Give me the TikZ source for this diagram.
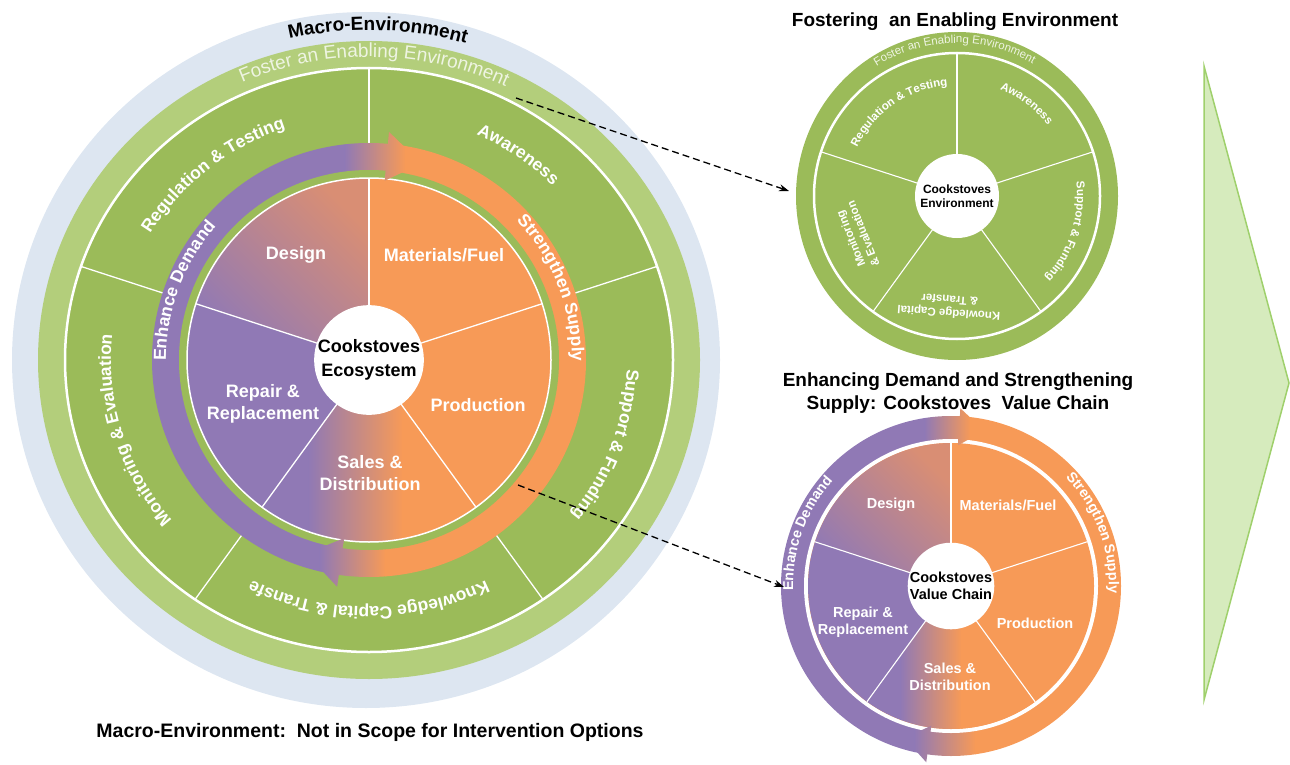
\documentclass[tikz,border=0pt]{standalone}
\usepackage{fontspec}
\setmainfont{Liberation Sans}
\usetikzlibrary{decorations.text,arrows.meta,calc}
\definecolor{pu}{HTML}{9079B5}
\definecolor{orng}{HTML}{F79A57}
\definecolor{grn}{HTML}{9BBB59}
\definecolor{lgrn}{HTML}{B3CE7B}
\definecolor{mblue}{HTML}{DDE6F1}
\definecolor{salm}{HTML}{D98E74}
\definecolor{trifill}{HTML}{D6EBBD}
\definecolor{triedge}{HTML}{9FD06C}
\definecolor{paletxt}{HTML}{EEF4E2}
\newcommand\fsz[2]{\fontsize{#1}{#2}\selectfont}
% curved text: #1 centre, #2 x radius, #3 y radius, #4 mid angle, #5 half span, #6 format, #7 text
\newcommand\arctext[7]{%
  \path[shift={(#1)},decorate,decoration={text along path,text align=center,text={|#6|#7}}]
    ({(#2)*cos((#4)+(#5))},{(#3)*sin((#4)+(#5))})
    arc[start angle={(#4)+(#5)},end angle={(#4)-(#5)},x radius=#2,y radius=#3];}
\newcommand\mainpaint{%
  \fill[pu] (-240,0) rectangle (-24,240);
  \shade[left color=pu,right color=orng] (-24.5,0) rectangle (36.5,240);
  \fill[orng] (36,0) rectangle (240,240);
  \fill[pu] (-240,0.5) rectangle (-49,-240);
  \shade[left color=pu,right color=orng] (-49.5,0.5) rectangle (16.5,-240);
  \fill[orng] (16,0.5) rectangle (240,-240);}
\newcommand\brpaint{%
  \fill[pu] (-190,0) rectangle (-26,190);
  \shade[left color=pu,right color=orng] (-26.5,0) rectangle (19.5,190);
  \fill[orng] (19,0) rectangle (190,190);
  \fill[pu] (-190,0.5) rectangle (-36,-190);
  \shade[left color=pu,right color=orng] (-36.5,0.5) rectangle (24.5,-190);
  \fill[orng] (24,0.5) rectangle (190,-190);}
\tikzset{
  wl/.style={text=white,font=\fsz{18}{22}\bfseries,align=center,inner sep=0pt},
  swl/.style={text=white,font=\fsz{14.5}{17}\bfseries,align=center,inner sep=0pt},
  tl/.style={text=white,font=\fsz{11.5}{13.5}\bfseries,align=center,inner sep=0pt},
  hub/.style={circle,fill=white,inner sep=0pt,align=center,text=black},
  ttl/.style={font=\fsz{19}{23}\bfseries,align=center,inner sep=0pt,text=black},
  conn/.style={draw=black,line width=1.3pt,dash pattern=on 7pt off 4pt,-{Stealth[length=10pt,width=7pt]}},
  divider/.style={draw=white,line width=1.3pt},
}
\begin{document}
\begin{tikzpicture}[x=1pt,y=1pt]
\useasboundingbox (0,0) rectangle (1290,-765);
\coordinate (C) at (369,-360);
\coordinate (T) at (957,-196);
\coordinate (B) at (951,-586);

% ---------------- main ecosystem ----------------
\fill[mblue] (366,-360) ellipse[x radius=354,y radius=348];
\fill[lgrn] (C) ellipse[x radius=331,y radius=319];
\fill[grn] (C) ellipse[x radius=304,y radius=292];
\begin{scope}
  \clip (C) ellipse[x radius=304,y radius=292];
  \begin{scope}[shift={(C)}]
    \foreach \a in {18,90,162,234,306} \draw[divider] (\a:215) -- (\a:330);
  \end{scope}
\end{scope}
\draw[white,line width=2.5pt] (C) ellipse[x radius=304,y radius=292];

\begin{scope}[shift={(C)}]
  \begin{scope}\clip (0,0) circle[radius=217]; \mainpaint \end{scope}
  \fill[grn] (0,0) circle[radius=190];
  \fill[orng] (0,0) circle[radius=182];
  \fill[pu] (0,0) -- (162:182) arc[start angle=162,end angle=234,radius=182] -- cycle;
  \shade[bottom color=pu,top color=salm,shading angle=-45] (0,0) -- (90:182) arc[start angle=90,end angle=162,radius=182] -- cycle;
  \begin{scope}
    \clip (0,0) -- (234:182) arc[start angle=234,end angle=306,radius=182] -- cycle;
    \fill[pu] (-200,0) rectangle (-60,-200);
    \shade[left color=pu,right color=orng] (-60.5,0) rectangle (33.5,-200);
    \fill[orng] (33,0) rectangle (200,-200);
  \end{scope}
  \foreach \a in {18,90,162,234,306} \draw[divider] (\a:50) -- (\a:182);
  \draw[white,line width=1.5pt] (0,0) circle[radius=182];
  \begin{scope}\clip (85:229) -- (75:203.5) -- (85:180) -- cycle; \mainpaint \end{scope}
  \begin{scope}\clip (262:229) -- (252:203.5) -- (262:180) -- cycle; \mainpaint \end{scope}
  \node[hub,minimum size=104pt,font=\fsz{18}{24}\bfseries] (eco) at (0,0) {Cookstoves\\Ecosystem};
\end{scope}

\node[wl] (design) at (296,-255) {Design};
\node[wl] (matfuel) at (444,-255) {Materials/Fuel};
\node[wl] (prod) at (478,-405) {Production};
\node[wl] (sales) at (370,-473) {Sales \&\\Distribution};
\node[wl] (repair) at (263,-404) {Repair \&\\Replacement};

\arctext{C}{255}{245}{129.5}{45}{\fsz{17.5}{20}\bfseries\color{white}}{Regulation {\&} Testing}
\arctext{C}{258}{248}{54.5}{45}{\fsz{17.5}{20}\bfseries\color{white}}{Awareness}
\arctext{C}{258}{248}{340}{45}{\fsz{17.5}{20}\bfseries\color{white}}{Support {\&} Funding}
\arctext{C}{257}{247}{270}{45}{\fsz{17.5}{20}\bfseries\color{white}}{Knowledge Capital {\&} Transfe}
\arctext{C}{258}{248}{197}{45}{\fsz{17.5}{20}\bfseries\color{white}}{Monitoring {\&} Evaluation}
\arctext{C}{315}{303}{89}{50}{\fsz{19}{22}\color{paletxt}}{Foster an Enabling Environment}
\arctext{C}{342}{330}{88.5}{40}{\fsz{19}{22}\bfseries}{Macro-Environment}
\arctext{C}{203}{203}{159.5}{50}{\fsz{17.5}{20}\bfseries\color{white}}{Enhance Demand}
\arctext{C}{203}{203}{21.5}{50}{\fsz{17.5}{20}\bfseries\color{white}}{Strengthen Supply}

\node[anchor=base,font=\fsz{19.5}{23}\bfseries,inner sep=0pt] (scope) at (370,-737) {Macro-Environment:\ \ Not in Scope for Intervention Options};

% ---------------- enabling environment ----------------
\node[ttl,anchor=base] (title1) at (955,-27) {Fostering\ \ an Enabling Environment};
\fill[grn] (T) ellipse[x radius=161,y radius=164];
\begin{scope}[shift={(T)}]
  \foreach \a in {18,90,162,234,306} \draw[white,line width=1.1pt] (\a:40) -- (\a:143);
  \draw[white,line width=2.5pt] (0,0) circle[radius=143];
  \node[hub,minimum size=84pt,font=\fsz{12}{14}\bfseries] (envhub) at (0,0) {Cookstoves\\Environment};
  \node[tl,rotate=176] (kct) at (266:111) {Knowledge Capital\\\& Transfer};
  \node[tl,rotate=112] (mev) at (202:108) {Monitoring\\\& Evaluation};
\end{scope}
\arctext{T}{151}{153}{91}{50}{\fsz{11.5}{13}\color{paletxt}}{Foster an Enabling Environment}
\arctext{T}{111}{111}{124.5}{45}{\fsz{11.5}{13}\bfseries\color{white}}{Regulation {\&} Testing}
\arctext{T}{115}{115}{53}{45}{\fsz{11.5}{13}\bfseries\color{white}}{Awareness}
\arctext{T}{120}{120}{342}{45}{\fsz{11.5}{13}\bfseries\color{white}}{Support {\&} Funding}

% ---------------- value chain ----------------
\node[ttl,anchor=north] (title2) at (958,-373) {Enhancing Demand and Strengthening\\Supply: Cookstoves\ \ Value Chain};
\begin{scope}[shift={(B)}]
  \begin{scope}\clip (0,0) circle[radius=170]; \brpaint \end{scope}
  \fill[white] (0,0) circle[radius=147];
  \fill[orng] (0,0) circle[radius=143];
  \fill[pu] (0,0) -- (162:143) arc[start angle=162,end angle=234,radius=143] -- cycle;
  \shade[bottom color=pu,top color=salm,shading angle=-45] (0,0) -- (90:143) arc[start angle=90,end angle=162,radius=143] -- cycle;
  \begin{scope}
    \clip (0,0) -- (234:143) arc[start angle=234,end angle=306,radius=143] -- cycle;
    \fill[pu] (-160,0) rectangle (-50,-160);
    \shade[left color=pu,right color=orng] (-50.5,0) rectangle (10.5,-160);
    \fill[orng] (10,0) rectangle (160,-160);
  \end{scope}
  \foreach \a in {18,90,162,234,306} \draw[white,line width=1.1pt] (\a:40) -- (\a:143);
  \begin{scope}\clip (87:178) -- (78:159) -- (87:141) -- cycle; \brpaint \end{scope}
  \begin{scope}\clip (262:178) -- (253:159) -- (262:141) -- cycle; \brpaint \end{scope}
  \node[hub,minimum size=84pt,font=\fsz{14.5}{17}\bfseries] (vchub) at (0,0) {Cookstoves\\Value Chain};
\end{scope}
\node[swl] (sdesign) at (891,-505) {Design};
\node[swl] (smat) at (1008,-505) {Materials/Fuel};
\node[swl] (sprod) at (1035,-623) {Production};
\node[swl] (ssales) at (950,-677) {Sales \&\\Distribution};
\node[swl] (srepair) at (863,-622) {Repair \&\\Replacement};
\arctext{B}{158}{158}{160}{50}{\fsz{14.3}{17}\bfseries\color{white}}{Enhance Demand}
\arctext{B}{158}{158}{20.5}{50}{\fsz{14.3}{17}\bfseries\color{white}}{Strengthen Supply}

% ---------------- connectors ----------------
\coordinate (envtail) at (516,-98);
\coordinate (envhead) at (789,-191);
\coordinate (vctail) at (518,-485);
\coordinate (vchead) at (784,-587);
\draw[conn] (envtail) -- (envhead);
\draw[conn] (vctail) -- (vchead);

% ---------------- big arrow ----------------
\draw[fill=trifill,draw=triedge,line width=1.5pt] (1204,-66) -- (1289,-383) -- (1204,-700) -- cycle;
\end{tikzpicture}
\end{document}
